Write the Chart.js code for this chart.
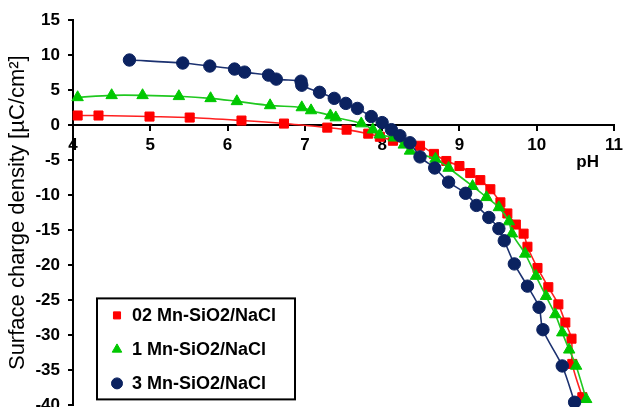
<!DOCTYPE html>
<html>
<head>
<meta charset="utf-8">
<script src="https://cdn.jsdelivr.net/npm/chart.js@4.4.1/dist/chart.umd.min.js"></script>
<style>
  html, body { margin: 0; padding: 0; background: #fff; overflow: hidden; }
  /* the canvas runs a few px past the frame so the -40 label is cut at the bottom edge */
  #wrap { width: 628px; height: 407px; overflow: hidden; }
</style>
</head>
<body>
<div id="wrap"><canvas id="chargeChart" width="628" height="413"></canvas></div>
<script>
// surface charge density vs pH for three Mn loadings
const seriesNames = ['02 Mn-SiO2/NaCl', '1 Mn-SiO2/NaCl', '3 Mn-SiO2/NaCl'];
const seriesColors = ['#ff0000', '#00c800', '#0b2260'];
const lineColors = ['#ff2020', '#20c820', '#1b3170'];
const seriesMarkers = ['rect', 'triangle', 'circle'];

const phRed = [4.06, 4.33, 4.99, 5.51, 6.18, 6.73, 7.29, 7.54, 7.82, 7.97, 8.14, 8.49, 8.67, 8.83, 9.00,
  9.14, 9.27, 9.40, 9.53, 9.62, 9.73, 9.83, 9.88, 10.01, 10.15, 10.28, 10.37, 10.45, 10.46, 10.59];
const sigmaRed = [1.37, 1.37, 1.22, 1.08, 0.65, 0.22, -0.36, -0.65, -1.22, -1.66, -2.23, -2.95, -4.11, -5.12, -5.84,
  -6.84, -7.85, -9.15, -11.02, -12.61, -14.19, -15.49, -17.36, -20.39, -23.13, -25.58, -28.17, -30.48, -34.08, -38.83];

const phGreen = [4.06, 4.50, 4.90, 5.37, 5.78, 6.12, 6.55, 6.96, 7.08, 7.33, 7.40, 7.73, 7.88, 7.97, 8.15, 8.28,
  8.36, 8.69, 8.86, 9.17, 9.35, 9.51, 9.64, 9.68, 9.85, 9.99, 10.12, 10.24, 10.33, 10.42, 10.51, 10.64];
const sigmaGreen = [3.96, 4.25, 4.25, 4.11, 3.82, 3.39, 2.81, 2.52, 2.09, 1.37, 1.08, 0.22, -0.65, -1.37, -1.80, -2.81,
  -3.67, -4.83, -6.12, -8.72, -10.30, -11.74, -13.76, -15.49, -18.37, -21.54, -24.42, -27.02, -29.61, -32.06, -34.37, -39.12];

const phNavy = [4.73, 5.42, 5.77, 6.09, 6.22, 6.53, 6.63, 6.95, 6.96, 7.19, 7.38, 7.53, 7.68, 7.86, 8.00, 8.12,
  8.23, 8.36, 8.49, 8.68, 8.86, 9.08, 9.22, 9.38, 9.51, 9.58, 9.71, 9.88, 10.03, 10.08, 10.33, 10.49];
const sigmaNavy = [9.29, 8.86, 8.43, 8.00, 7.56, 7.13, 6.56, 6.27, 5.69, 4.68, 3.82, 3.10, 2.38, 1.22, 0.36, -0.65,
  -1.51, -2.52, -4.54, -6.12, -8.14, -9.73, -11.46, -13.18, -14.77, -16.50, -19.81, -22.98, -26.00, -29.20, -34.37, -39.55];

const xTicks = [4, 5, 6, 7, 8, 9, 10, 11];
const yTicks = [15, 10, 5, 0, -5, -10, -15, -20, -25, -30, -35, -40];

const FONT = "'Liberation Sans', Arial, sans-serif";

function toPoints(xs, ys) {
  return xs.map((x, i) => ({ x: x, y: ys[i] }));
}

const allX = [phRed, phGreen, phNavy];
const allY = [sigmaRed, sigmaGreen, sigmaNavy];
const markerSize = [6.4, 6.6, 6.2];

const datasets = seriesNames.map((name, i) => ({
  label: name,
  data: toPoints(allX[i], allY[i]),
  showLine: true,
  tension: 0.3,
  borderColor: lineColors[i],
  borderWidth: 1.6,
  backgroundColor: seriesColors[i],
  pointStyle: seriesMarkers[i],
  pointRadius: markerSize[i],
  pointBackgroundColor: seriesColors[i],
  pointBorderColor: seriesColors[i],
  pointBorderWidth: 1,
  clip: false,
  order: 3 - i
}));

// legend box and axis caption drawn on the canvas
const annotations = {
  id: 'annotations',
  afterDraw(chart) {
    const ctx = chart.ctx;
    const xs = chart.scales.x, ys = chart.scales.y;
    const area = chart.chartArea;
    ctx.save();

    // "pH" caption under the right end of the x axis
    ctx.font = 'bold 17px ' + FONT;
    ctx.fillStyle = '#000';
    ctx.textAlign = 'right';
    ctx.textBaseline = 'middle';
    ctx.fillText('pH', xs.getPixelForValue(11) - 15, ys.getPixelForValue(0) + 37);

    // legend
    const bx = area.left + 24, by = area.bottom - 107, bw = 198, bh = 101;
    ctx.lineWidth = 2;
    ctx.strokeStyle = '#000';
    ctx.fillStyle = '#fff';
    ctx.fillRect(bx, by, bw, bh);
    ctx.strokeRect(bx, by, bw, bh);
    ctx.textAlign = 'left';
    ctx.font = 'bold 18px ' + FONT;
    chart.data.datasets.forEach((ds, i) => {
      const cy = by + 17 + i * 34;
      ctx.fillStyle = ds.pointBackgroundColor;
      ctx.strokeStyle = ds.pointBorderColor;
      ctx.lineWidth = 1;
      Chart.helpers.drawPoint(ctx, { pointStyle: ds.pointStyle, radius: i === 0 ? 5 : 5.5, rotation: 0, borderWidth: 1 }, bx + 20, cy);
      ctx.fillStyle = '#000';
      ctx.fillText(ds.label, bx + 35, cy + 1);
    });
    ctx.restore();
  }
};

new Chart(document.getElementById('chargeChart'), {
  type: 'scatter',
  data: { datasets: datasets },
  plugins: [annotations],
  options: {
    responsive: false,
    animation: false,
    events: [],
    layout: { padding: { top: 20, right: 9, bottom: 0, left: 0 } },
    plugins: {
      legend: { display: false },
      tooltip: { enabled: false }
    },
    scales: {
      x: {
        type: 'linear',
        position: { y: 0 },
        min: 4,
        max: 11,
        afterBuildTicks: (scale) => { scale.ticks = xTicks.map(v => ({ value: v })); },
        afterFit: (scale) => { scale.height = 0; },
        grid: { drawOnChartArea: false, drawTicks: true, tickLength: 5, color: '#000', lineWidth: 2 },
        border: { display: true, color: '#000', width: 2 },
        ticks: {
          color: '#000',
          padding: 5,
          maxRotation: 0,
          font: { family: FONT, size: 17, weight: 'bold' }
        }
      },
      y: {
        type: 'linear',
        min: -40,
        max: 15,
        afterBuildTicks: (scale) => { scale.ticks = yTicks.map(v => ({ value: v })); },
        afterFit: (scale) => {
          scale.width = 73;
          scale.paddingTop = 0;
          scale.paddingBottom = 0;
        },
        grid: { drawOnChartArea: false, drawTicks: true, tickLength: 5, color: '#000', lineWidth: 2 },
        border: { display: true, color: '#000', width: 2 },
        ticks: {
          color: '#000',
          padding: 8,
          font: { family: FONT, size: 17, weight: 'bold' }
        },
        title: {
          display: true,
          text: 'Surface charge density [µC/cm²]',
          color: '#000',
          padding: { top: 5, bottom: 0 },
          font: { family: FONT, size: 22 }
        }
      }
    }
  }
});
</script>
</body>
</html>
